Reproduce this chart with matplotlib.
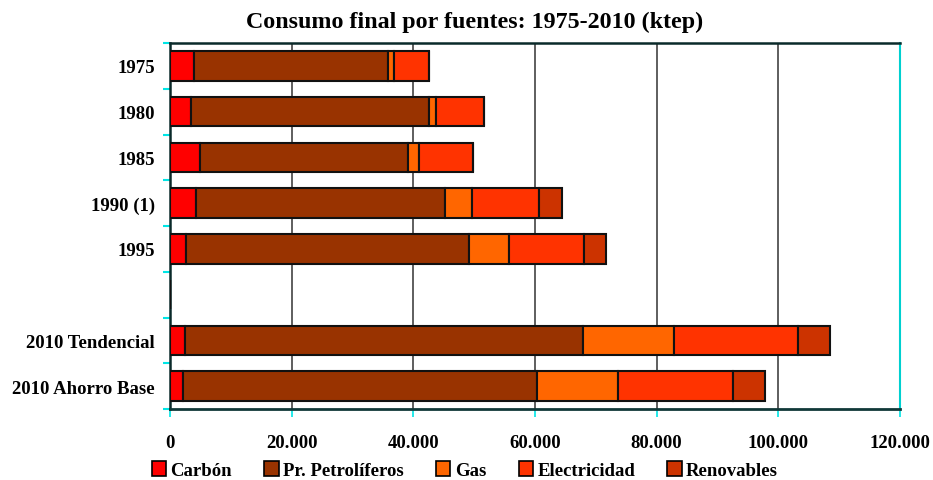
import matplotlib
matplotlib.use("Agg")
import matplotlib.pyplot as plt
import numpy as np

categories = ["1975", "1980", "1985", "1990 (1)", "1995", "", "2010 Tendencial", "2010 Ahorro Base"]
series_names = ["Carbón", "Pr. Petrolíferos", "Gas", "Electricidad", "Renovables"]
carbon       = [3950, 3450, 4930, 4220, 2630, 0, 2470, 2140]
petroliferos = [31950, 39130, 34140, 40930, 46470, 0, 65370, 58140]
gas          = [920, 1150, 1810, 4550, 6570, 0, 15010, 13310]
electricidad = [5810, 7890, 8930, 10960, 12440, 0, 20330, 19010]
renovables   = [0, 0, 0, 3720, 3560, 0, 5320, 5210]
colors = ["#FF0000", "#993300", "#FF6600", "#FF3300", "#CC3300"]
xticks = [0, 20000, 40000, 60000, 80000, 100000, 120000]
xticklabels = ["0", "20.000", "40.000", "60.000", "80.000", "100.000", "120.000"]

plt.rcParams['font.family'] = ['Liberation Serif', 'DejaVu Serif']
plt.rcParams['font.weight'] = 'bold'

fig = plt.figure(figsize=(9.33, 4.81), dpi=100)
ax = fig.add_axes([170/933, 1-410/481, 730/933, 366/481])

y = np.arange(len(categories))
left = np.zeros(len(categories))
series = [carbon, petroliferos, gas, electricidad, renovables]
handles = []
for name, vals, c in zip(series_names, series, colors):
    vals = np.array(vals, dtype=float)
    h = ax.barh(y, vals, left=left, height=0.65, color=c, edgecolor="#111111",
                linewidth=1.5, label=name, zorder=3)
    handles.append(h)
    left += vals

ax.set_ylim(len(categories) - 0.5, -0.5)
ax.set_xlim(0, 120000)
ax.set_yticks(np.arange(len(categories) + 1) - 0.5, minor=False)
ax.set_yticklabels([])
ax.set_yticks(y, minor=True)
ax.set_yticklabels(categories, minor=True, fontsize=13.5, fontweight='bold')
ax.tick_params(axis='y', which='minor', length=0, pad=11)
ax.tick_params(axis='y', which='major', length=5, color='#00E5E5', width=1.5, direction='out')

ax.set_xticks(xticks)
ax.set_xticklabels(xticklabels, fontsize=13.5, fontweight='bold')
ax.tick_params(axis='x', length=6, color='#00E5E5', width=1.2, pad=12, direction='out')

for xv in xticks[1:-1]:
    ax.axvline(xv, color='#333333', linewidth=1.1, zorder=1)

for s in ['left', 'top']:
    ax.spines[s].set_color('#0a2a2a')
    ax.spines[s].set_linewidth(1.8)
ax.spines['bottom'].set_color('#103838')
ax.spines['bottom'].set_linewidth(2.0)
ax.spines['right'].set_color('#00D0D0')
ax.spines['right'].set_linewidth(1.5)

fig.text(475/933, 1-22/481, "Consumo final por fuentes: 1975-2010 (ktep)",
         ha='center', va='center', fontsize=17.3, fontweight='bold')

leg = fig.legend(handles=handles, labels=series_names, loc='center',
                 bbox_to_anchor=(465/933, 1-471/481), ncol=5, frameon=False,
                 handlelength=0.75, handleheight=0.9, borderpad=0.1,
                 handletextpad=0.25, columnspacing=1.72,
                 prop={'weight': 'bold', 'size': 13.5})
for p in leg.get_patches():
    p.set_linewidth(1.2)
    p.set_edgecolor('black')

fig.savefig("out.png", dpi=100)
